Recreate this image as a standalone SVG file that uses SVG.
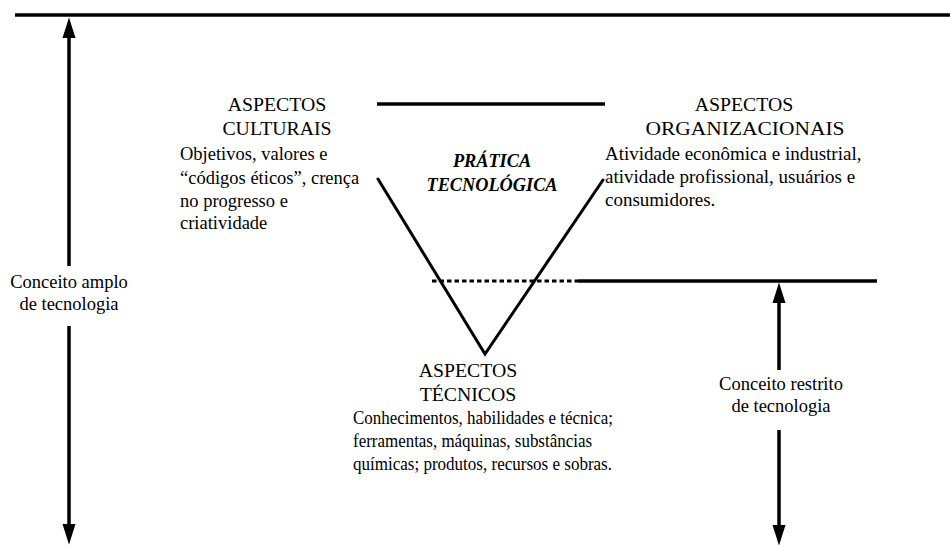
<svg xmlns="http://www.w3.org/2000/svg" width="950" height="545" viewBox="0 0 950 545">
  <style>
    text { font-family: "Liberation Serif", Tinos, "Times New Roman", "Noto Serif", "DejaVu Serif", serif; fill: #000; }
    .head { font-size: 19.8px; text-anchor: middle; }
    .body { font-size: 18.5px; }
    .body-r { font-size: 19px; }
    .body-t { font-size: 18px; }
    .label { font-size: 18.5px; text-anchor: middle; }
    .title { font-size: 18.3px; font-weight: bold; font-style: italic; text-anchor: middle; }
    .rule { stroke: #000; stroke-width: 3.5; fill: none; }
    .vee { stroke: #000; stroke-width: 3; fill: none; stroke-linecap: round; }
    .dots { stroke: #000; stroke-width: 3; fill: none; stroke-dasharray: 4.5 3; }
    .shaft { stroke: #000; stroke-width: 3.5; fill: none; marker-end: url(#head); }
  </style>
  <defs>
    <marker id="head" markerUnits="userSpaceOnUse" markerWidth="21" markerHeight="14" refX="0" refY="7" orient="auto" overflow="visible">
      <path d="M0,0.5 L20.5,7 L0,13.5 z" fill="#000"/>
    </marker>
  </defs>

  <!-- rules, triangle and arrows -->
  <g id="connectors">
    <line class="rule" x1="15" y1="15" x2="950" y2="15"/>
    <line class="rule" x1="377" y1="104" x2="605" y2="104"/>
    <polyline class="vee" points="378,179 485,354 603,180"/>
    <line class="dots" x1="432" y1="281" x2="578" y2="281"/>
    <line class="rule" x1="578" y1="281" x2="877" y2="281"/>
    <line class="shaft" x1="69" y1="266" x2="69" y2="38"/>
    <line class="shaft" x1="69" y1="326" x2="69" y2="524"/>
    <line class="shaft" x1="779" y1="370" x2="779" y2="303"/>
    <line class="shaft" x1="779" y1="430" x2="779" y2="525"/>
  </g>

  <g id="culturais">
    <text class="head" x="277" y="111">ASPECTOS</text>
    <text class="head" x="277" y="135">CULTURAIS</text>
    <text class="body" x="180" y="160">Objetivos, valores e</text>
    <text class="body" x="180" y="184">“códigos éticos”, crença</text>
    <text class="body" x="180" y="207">no progresso e</text>
    <text class="body" x="180" y="229">criatividade</text>
  </g>

  <g id="organizacionais">
    <text class="head" x="744" y="111">ASPECTOS</text>
    <text class="head" x="745" y="135" textLength="199" lengthAdjust="spacingAndGlyphs">ORGANIZACIONAIS</text>
    <text class="body-r" x="605" y="160">Atividade econômica e industrial,</text>
    <text class="body-r" x="605" y="183">atividade profissional, usuários e</text>
    <text class="body-r" x="605" y="206">consumidores.</text>
  </g>

  <g id="pratica">
    <text class="title" x="492" y="167">PRÁTICA</text>
    <text class="title" x="492" y="191">TECNOLÓGICA</text>
  </g>

  <g id="tecnicos">
    <text class="head" x="468" y="377">ASPECTOS</text>
    <text class="head" x="468" y="401">TÉCNICOS</text>
    <text class="body-t" x="353" y="424" textLength="260" lengthAdjust="spacingAndGlyphs">Conhecimentos, habilidades e técnica;</text>
    <text class="body-t" x="353" y="447" textLength="239" lengthAdjust="spacingAndGlyphs">ferramentas, máquinas, substâncias</text>
    <text class="body-t" x="353" y="470" textLength="259" lengthAdjust="spacingAndGlyphs">químicas; produtos, recursos e sobras.</text>
  </g>

  <g id="conceito-amplo">
    <text class="label" x="69" y="288">Conceito amplo</text>
    <text class="label" x="69" y="310">de tecnologia</text>
  </g>

  <g id="conceito-restrito">
    <text class="label" x="781" y="390">Conceito restrito</text>
    <text class="label" x="781" y="412">de tecnologia</text>
  </g>
</svg>
